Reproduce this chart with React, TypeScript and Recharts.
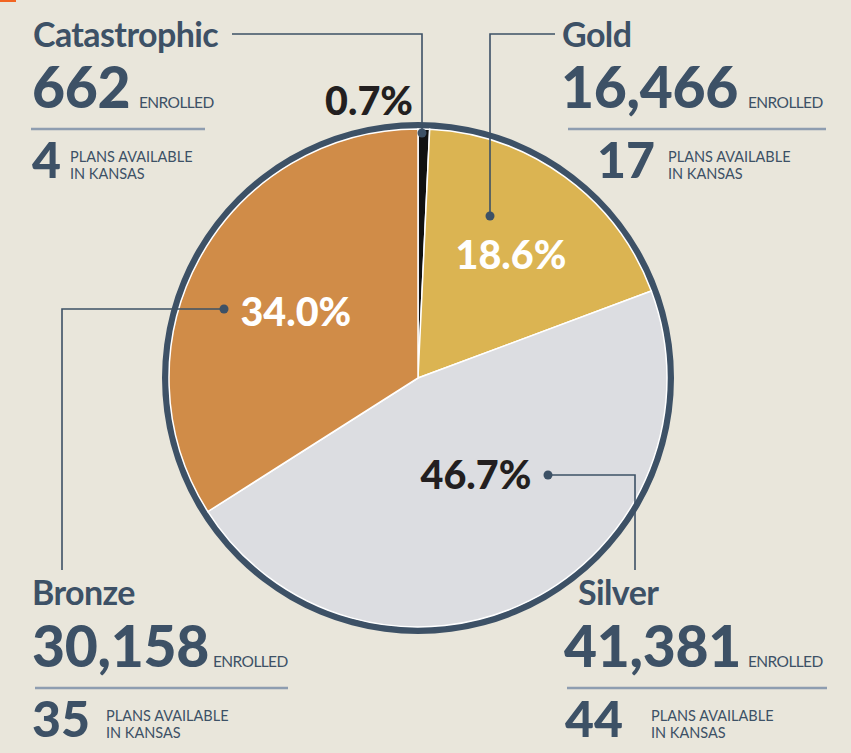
import React from "react";
import { PieChart, Pie, Cell } from "recharts";

const tiers = ["Catastrophic", "Gold", "Silver", "Bronze"];
const enrolled = [662, 16466, 41381, 30158];
const plans = [4, 17, 44, 35];
const percentLabels = ["0.7%", "18.6%", "46.7%", "34.0%"];
const sliceColors = ["#111111", "#dbb452", "#dcdde1", "#d08c48"];
const labelColors = ["#231f20", "#ffffff", "#231f20", "#ffffff"];

const pieData = tiers.map((name, i) => ({ name, value: enrolled[i] }));
const ringData = [{ name: "ring", value: 1 }];

const BG = "#e9e6db";
const INK = "#3d5166";
const RULE = "#8e9db0";
const FONT = "Lato, 'Open Sans', sans-serif";

const CX = 418;
const CY = 378;
const R = 249;

// per-slice label placement (layout)
const labelRadius = [0, 154, 113, 139];
const labelAngleShift = [0, -1, 4.4, 0.3];

const RAD = Math.PI / 180;
const PCT_SIZE = 39.5;

const renderLabel = (props: any) => {
  const { cx, cy, midAngle, index } = props;
  if (index === 0) {
    return (
      <text x={413} y={115} textAnchor="end" fontFamily={FONT} fontWeight={900} fontSize={PCT_SIZE} fill={labelColors[0]}>
        {percentLabels[0]}
      </text>
    );
  }
  const r = labelRadius[index];
  const a = (midAngle + labelAngleShift[index]) * RAD;
  const x = cx + r * Math.cos(-a);
  const y = cy + r * Math.sin(-a);
  return (
    <text x={x} y={y + PCT_SIZE * 0.36} textAnchor="middle" fontFamily={FONT} fontWeight={900} fontSize={PCT_SIZE} fill={labelColors[index]}>
      {percentLabels[index]}
    </text>
  );
};

const blocks = [
  { i: 0, x: 33, titleY: 47, numX: 32, numY: 108, enrX: 139, ruleX1: 31, ruleX2: 205, ruleY: 129, planX: 32, planTextX: 70, planY: 178 },
  { i: 1, x: 562, titleY: 47, numX: 561, numY: 108, enrX: 748, ruleX1: 568, ruleX2: 826, ruleY: 129, planX: 597, planTextX: 668, planY: 178 },
  { i: 2, x: 578, titleY: 605, numX: 564, numY: 667, enrX: 748, ruleX1: 567, ruleX2: 827, ruleY: 688, planX: 565, planTextX: 651, planY: 737 },
  { i: 3, x: 32, titleY: 605, numX: 32, numY: 667, enrX: 213, ruleX1: 35, ruleX2: 288, ruleY: 688, planX: 32, planTextX: 106, planY: 737 },
];

const leaders = [
  { i: 0, pts: "232,34 422,34 422,133", dot: [422, 133] },
  { i: 1, pts: "555,34 490,34 490,216", dot: [490, 216] },
  { i: 2, pts: "548,475 635,475 635,570", dot: [548, 475] },
  { i: 3, pts: "224,309 62,309 62,570", dot: [224, 309] },
];

const Annotations = () => (
  <svg width={851} height={753} style={{ position: "absolute", left: 0, top: 0, pointerEvents: "none" }}>
    <rect x={0} y={0} width={16} height={2} fill="#f26522" />
    {leaders.map((l) => (
      <g key={l.i}>
        <polyline points={l.pts} fill="none" stroke={INK} strokeWidth={1.6} />
        <circle cx={l.dot[0]} cy={l.dot[1]} r={4.5} fill={INK} />
      </g>
    ))}
    {blocks.map((b) => (
      <g key={b.i} fontFamily={FONT} fill={INK}>
        <text x={b.x} y={b.titleY} fontSize={34} fontWeight={700} letterSpacing={-0.6}>
          {tiers[b.i]}
        </text>
        <text x={b.numX} y={b.numY} fontSize={57} fontWeight={900} letterSpacing={-0.3}>
          {enrolled[b.i].toLocaleString("en-US")}
        </text>
        <text x={b.enrX} y={b.numY} fontSize={15.5} fontWeight={400} letterSpacing={-0.6}>
          ENROLLED
        </text>
        <line x1={b.ruleX1} x2={b.ruleX2} y1={b.ruleY} y2={b.ruleY} stroke={RULE} strokeWidth={2.5} />
        <text x={b.planX} y={b.planY} fontSize={50} fontWeight={900}>
          {plans[b.i]}
        </text>
        <text x={b.planTextX} y={b.planY - 16.5} fontSize={14.5} fontWeight={400} letterSpacing={0}>
          PLANS AVAILABLE
        </text>
        <text x={b.planTextX} y={b.planY + 1} fontSize={14.5} fontWeight={400} letterSpacing={0}>
          IN KANSAS
        </text>
      </g>
    ))}
  </svg>
);

export default function App() {
  return (
    <div style={{ position: "absolute", left: 0, top: 0, width: 851, height: 753, background: BG }}>
      <PieChart width={851} height={753} margin={{ top: 0, right: 0, bottom: 0, left: 0 }}>
        <Pie
          data={ringData}
          dataKey="value"
          cx={CX}
          cy={CY}
          innerRadius={R}
          outerRadius={R + 7}
          fill={INK}
          stroke="none"
          isAnimationActive={false}
        />
        <Pie
          data={pieData}
          dataKey="value"
          cx={CX}
          cy={CY}
          outerRadius={R}
          startAngle={90}
          endAngle={-270}
          stroke="#ffffff"
          strokeWidth={1.5}
          label={renderLabel}
          labelLine={false}
          isAnimationActive={false}
        >
          {pieData.map((d, i) => (
            <Cell key={d.name} fill={sliceColors[i]} />
          ))}
        </Pie>
      </PieChart>
      <Annotations />
    </div>
  );
}
